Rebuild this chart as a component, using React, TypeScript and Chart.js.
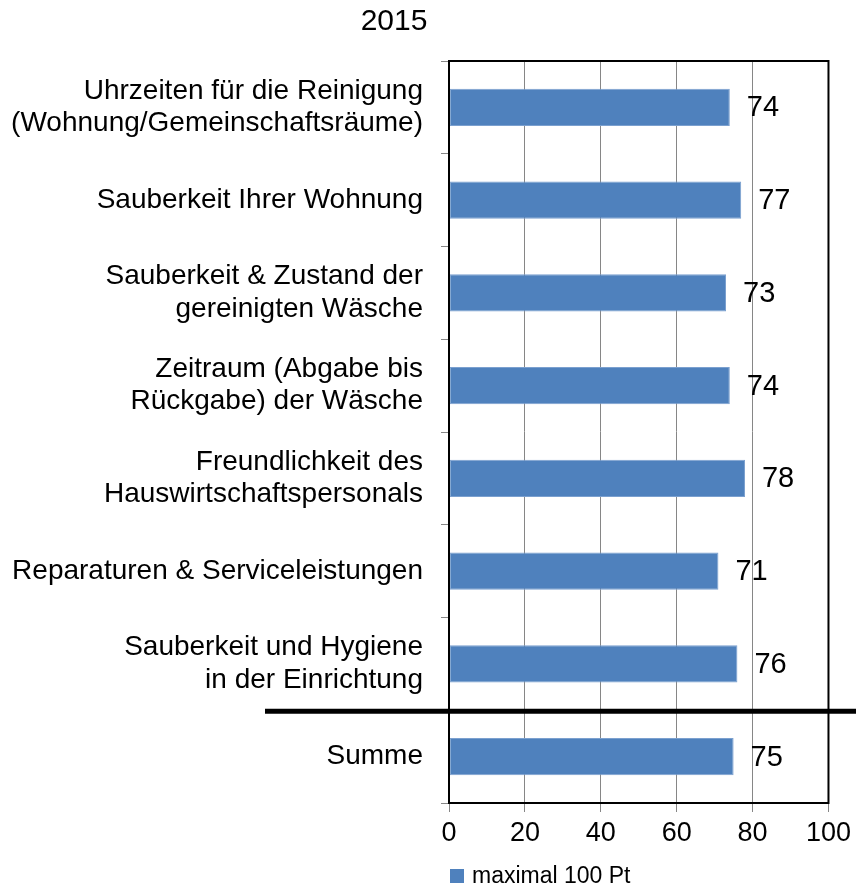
import React, { useEffect, useRef } from "react";
import { Chart, registerables } from "chart.js";

Chart.register(...registerables);

const chartTitle = "2015";
const categories: (string | string[])[] = [
  ["Uhrzeiten für die Reinigung", "(Wohnung/Gemeinschaftsräume)"],
  "Sauberkeit Ihrer Wohnung",
  ["Sauberkeit & Zustand der", "gereinigten Wäsche"],
  ["Zeitraum (Abgabe bis", "Rückgabe) der Wäsche"],
  ["Freundlichkeit des", "Hauswirtschaftspersonals"],
  "Reparaturen & Serviceleistungen",
  ["Sauberkeit und Hygiene", "in der Einrichtung"],
  "Summe",
];
const values: number[] = [74, 77, 73, 74, 78, 71, 76, 75];
const seriesName = "maximal 100 Pt";
const xMin = 0;
const xMax = 100;
const xStep = 20;

const FONT = "'Liberation Sans', Arial, sans-serif";
const BAR_COLOR = "#4F81BD";

const extrasPlugin = {
  id: "extras",
  afterDatasetsDraw(chart: any) {
    const { ctx, chartArea } = chart;
    const yScale = chart.scales.y;
    ctx.save();
    // frame
    ctx.strokeStyle = "#000";
    ctx.lineWidth = 2;
    ctx.strokeRect(chartArea.left, chartArea.top, chartArea.right - chartArea.left, chartArea.bottom - chartArea.top);
    // separator before last category
    const n = values.length;
    const sepY = (yScale.getPixelForValue(n - 2) + yScale.getPixelForValue(n - 1)) / 2 + 1;
    ctx.lineWidth = 5;
    ctx.beginPath();
    ctx.moveTo(265, sepY);
    ctx.lineTo(chart.width, sepY);
    ctx.stroke();
    // data labels
    const meta = chart.getDatasetMeta(0);
    ctx.fillStyle = "#000";
    ctx.font = `29px ${FONT}`;
    ctx.textAlign = "left";
    ctx.textBaseline = "middle";
    meta.data.forEach((el: any, i: number) => {
      ctx.fillText(String(values[i]), el.x + 17, el.y + 1);
    });
    // title
    ctx.font = `30px ${FONT}`;
    ctx.textAlign = "center";
    ctx.fillText(chartTitle, 394, 22);
    // legend
    ctx.fillStyle = BAR_COLOR;
    ctx.fillRect(450, 869, 14, 14);
    ctx.fillStyle = "#000";
    ctx.font = `23px ${FONT}`;
    ctx.textAlign = "left";
    ctx.fillText(seriesName, 472, 877);
    ctx.restore();
  },
};

export default function App() {
  const ref = useRef<HTMLCanvasElement | null>(null);
  useEffect(() => {
    if (!ref.current) return;
    const chart = new Chart(ref.current, {
      type: "bar",
      data: {
        labels: categories,
        datasets: [
          {
            label: seriesName,
            data: values,
            backgroundColor: BAR_COLOR,
            borderColor: "#7BA0CF",
            borderWidth: 1,
            borderSkipped: false,
            categoryPercentage: 1,
            barPercentage: 0.4,
          },
        ],
      },
      options: {
        indexAxis: "y",
        responsive: false,
        animation: false,
        layout: { padding: { top: 61, left: 0, right: 27, bottom: 0 } },
        plugins: {
          legend: { display: false },
          title: { display: false },
          tooltip: { enabled: false },
        },
        scales: {
          x: {
            type: "linear",
            min: xMin,
            max: xMax,
            ticks: {
              stepSize: xStep,
              color: "#000",
              font: { size: 27, family: FONT },
              padding: 5,
            },
            grid: { color: "#868686", lineWidth: 1, tickLength: 9, drawTicks: true },
            border: { color: "#000", width: 2 },
            afterFit: (s: any) => {
              s.height = 85;
            },
          },
          y: {
            type: "category",
            offset: true,
            ticks: {
              color: "#000",
              font: { size: 28, family: FONT, lineHeight: 1.15 },
              padding: 18,
            },
            grid: { offset: true, drawOnChartArea: false, color: "#868686", tickLength: 8 },
            border: { color: "#000", width: 2 },
            afterFit: (s: any) => {
              s.width = 449;
            },
          },
        },
      },
      plugins: [extrasPlugin],
    } as any);
    return () => chart.destroy();
  }, []);
  return (
    <div style={{ position: "fixed", left: 0, top: 0, width: 856, height: 888, background: "#fff" }}>
      <canvas ref={ref} width={856} height={888} />
    </div>
  );
}
